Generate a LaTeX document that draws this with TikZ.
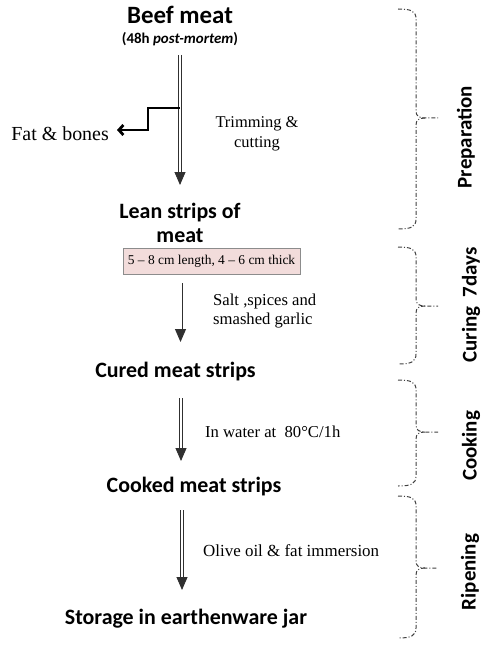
\documentclass[tikz,border=0pt]{standalone}
\usepackage{fontspec}
\setmainfont{Liberation Serif}
\newfontfamily\hfont{Carlito}
\usetikzlibrary{arrows.meta}
\definecolor{boxpink}{HTML}{F2DCDB}
\definecolor{boxedge}{HTML}{8C8C8C}
\definecolor{lineg}{HTML}{303030}
\definecolor{braceg}{HTML}{404040}
\tikzset{
  heading/.style={inner sep=0pt, anchor=base, font=\hfont\bfseries\fontsize{22}{26}\selectfont},
  serifnote/.style={inner sep=0pt, anchor=base west, font=\fontsize{16.7}{19}\selectfont},
  sidelabel/.style={inner sep=0pt, rotate=90, font=\hfont\bfseries\fontsize{21}{24}\selectfont},
  dblarrow/.style={draw=lineg, double=white, double distance=2.2bp, line width=0.9bp,
    -{Triangle[length=13bp,width=11bp]}},
  fatline/.style={draw=black, line width=2.8bp, -{Straight Barb[length=4.5bp,width=10bp]}},
  bracestyle/.style={draw=braceg, line width=1bp, dash pattern=on 4bp off 2bp on 1bp off 2bp},
}
\newcommand\mybrace[3]{%
  \draw[bracestyle] (398,#1) .. controls (411,#1) and (416,#1+2) .. (416,#1+10)
     -- (416,#3-7) .. controls (416,#3-2) and (419,#3) .. (425,#3) -- (438,#3);
  \draw[bracestyle] (425,#3) .. controls (419,#3) and (416,#3+2) .. (416,#3+7)
     -- (416,#2-10) .. controls (416,#2-2) and (411,#2) .. (398,#2);
}
\begin{document}
\begin{tikzpicture}[x=1bp, y=-1bp]
\useasboundingbox (0,0) rectangle (500,649);

% main column
\node[heading, font=\hfont\bfseries\fontsize{25}{28}\selectfont] (beef) at (180,24) {Beef meat};
\node[heading, font=\hfont\bfseries\fontsize{15}{18}\selectfont] (pm) at (180,44) {(48h \textit{post-mortem})};

\coordinate (a1s) at (180,55);
\coordinate (a1e) at (180,185);
\draw[dblarrow] (a1s) -- (a1e);

\coordinate (fb) at (180,108);
\coordinate (fattip) at (117,130);
\node[inner sep=0pt, anchor=base east, font=\fontsize{20}{23}\selectfont] (fat) at (109,140) {Fat \& bones};
\draw[fatline] (fb) -- (148,108) -- (148,130) -- (fattip);

\node[inner sep=0pt, anchor=base, font=\fontsize{16.5}{19}\selectfont] (trim1) at (257,128) {Trimming \&};
\node[inner sep=0pt, anchor=base, font=\fontsize{16.5}{19}\selectfont] (trim2) at (257,147) {cutting};

\node[heading] (lean1) at (180,218) {Lean strips of};
\node[heading] (lean2) at (180,242) {meat};

\node[draw=boxedge, fill=boxpink, line width=0.8bp, minimum width=177bp, minimum height=26bp,
      inner sep=0pt, font=\fontsize{13.5}{16}\selectfont] (box) at (211.5,261) {5 -- 8 cm length, 4 -- 6 cm thick};

\coordinate (a2s) at (180.5,283);
\coordinate (a2e) at (180.5,342);
\draw[dblarrow] (a2s) -- (a2e);
\node[serifnote] (salt1) at (213,305) {Salt ,spices and};
\node[serifnote] (salt2) at (213,324) {smashed garlic};

\node[heading] (cured) at (175.5,377) {Cured meat strips};

\coordinate (a3s) at (181,398);
\coordinate (a3e) at (181,461);
\draw[dblarrow] (a3s) -- (a3e);
\node[serifnote] (water) at (205,437) {In water at\ \ 80°C/1h};

\node[heading] (cooked) at (194,492) {Cooked meat strips};

\coordinate (a4s) at (182,510);
\coordinate (a4e) at (182,590);
\draw[dblarrow] (a4s) -- (a4e);
\node[serifnote, font=\fontsize{17}{19}\selectfont] (olive) at (203,556) {Olive oil \& fat immersion};

\node[heading] (storage) at (186,624) {Storage in earthenware jar};

% braces
\mybrace{9}{229}{118}
\mybrace{247}{364}{306}
\mybrace{380}{486}{432}
\mybrace{496}{638}{568}

\node[sidelabel] (prep) at (466,137) {Preparation};
\node[sidelabel] (cur) at (471,305) {Curing\ \ 7days};
\node[sidelabel] (cook) at (471,446) {Cooking};
\node[sidelabel] (rip) at (470,572) {Ripening};
\end{tikzpicture}
\end{document}
